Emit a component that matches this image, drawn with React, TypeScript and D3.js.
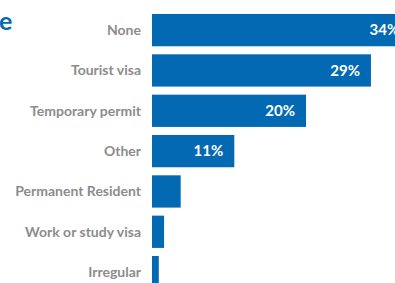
import React from "react";
import * as d3 from "d3";

const categories = [
  "None",
  "Tourist visa",
  "Temporary permit",
  "Other",
  "Permanent Resident",
  "Work or study visa",
  "Irregular",
];
const values = [34.2, 29, 20.4, 10.9, 3.8, 1.6, 0.9];
const valueLabels = ["34%", "29%", "20%", "11%", "", "", ""];

const width = 395;
const height = 283;
const left = 152;
const blue = "#0369b3";
const gray = "#8c8c8c";
const font = "Lato, 'Open Sans', sans-serif";
const step = 40.33;

export default function App() {
  const x = d3.scaleLinear().domain([0, 10]).range([0, 75.5]);
  const y = d3
    .scaleBand<string>()
    .domain(categories)
    .range([14, 14 + step * (categories.length - 0.2)])
    .paddingInner(0.2)
    .paddingOuter(0);

  return (
    <svg
      width={width}
      height={height}
      style={{ position: "absolute", top: 0, left: 0, display: "block" }}
    >
      <rect width={width} height={height} fill="#fff" />
      <text
        x={-1}
        y={30}
        fill={blue}
        fontFamily={font}
        fontWeight={700}
        fontSize={25}
      >
        e
      </text>
      {categories.map((c, i) => {
        const yy = y(c)!;
        const bw = x(values[i]);
        const cy = yy + y.bandwidth() / 2;
        return (
          <g key={c}>
            <text
              x={left - 11}
              y={cy}
              dy="0.35em"
              textAnchor="end"
              fill={gray}
              fontFamily={font}
              fontWeight={700}
              fontSize={14}
            >
              {c}
            </text>
            <rect x={left} y={yy} width={bw} height={y.bandwidth()} fill={blue} />
            {valueLabels[i] && (
              <text
                x={left + bw - 11}
                y={cy}
                dy="0.35em"
                textAnchor="end"
                fill="#fff"
                fontFamily={font}
                fontWeight={700}
                fontSize={15}
              >
                {valueLabels[i]}
              </text>
            )}
          </g>
        );
      })}
    </svg>
  );
}
